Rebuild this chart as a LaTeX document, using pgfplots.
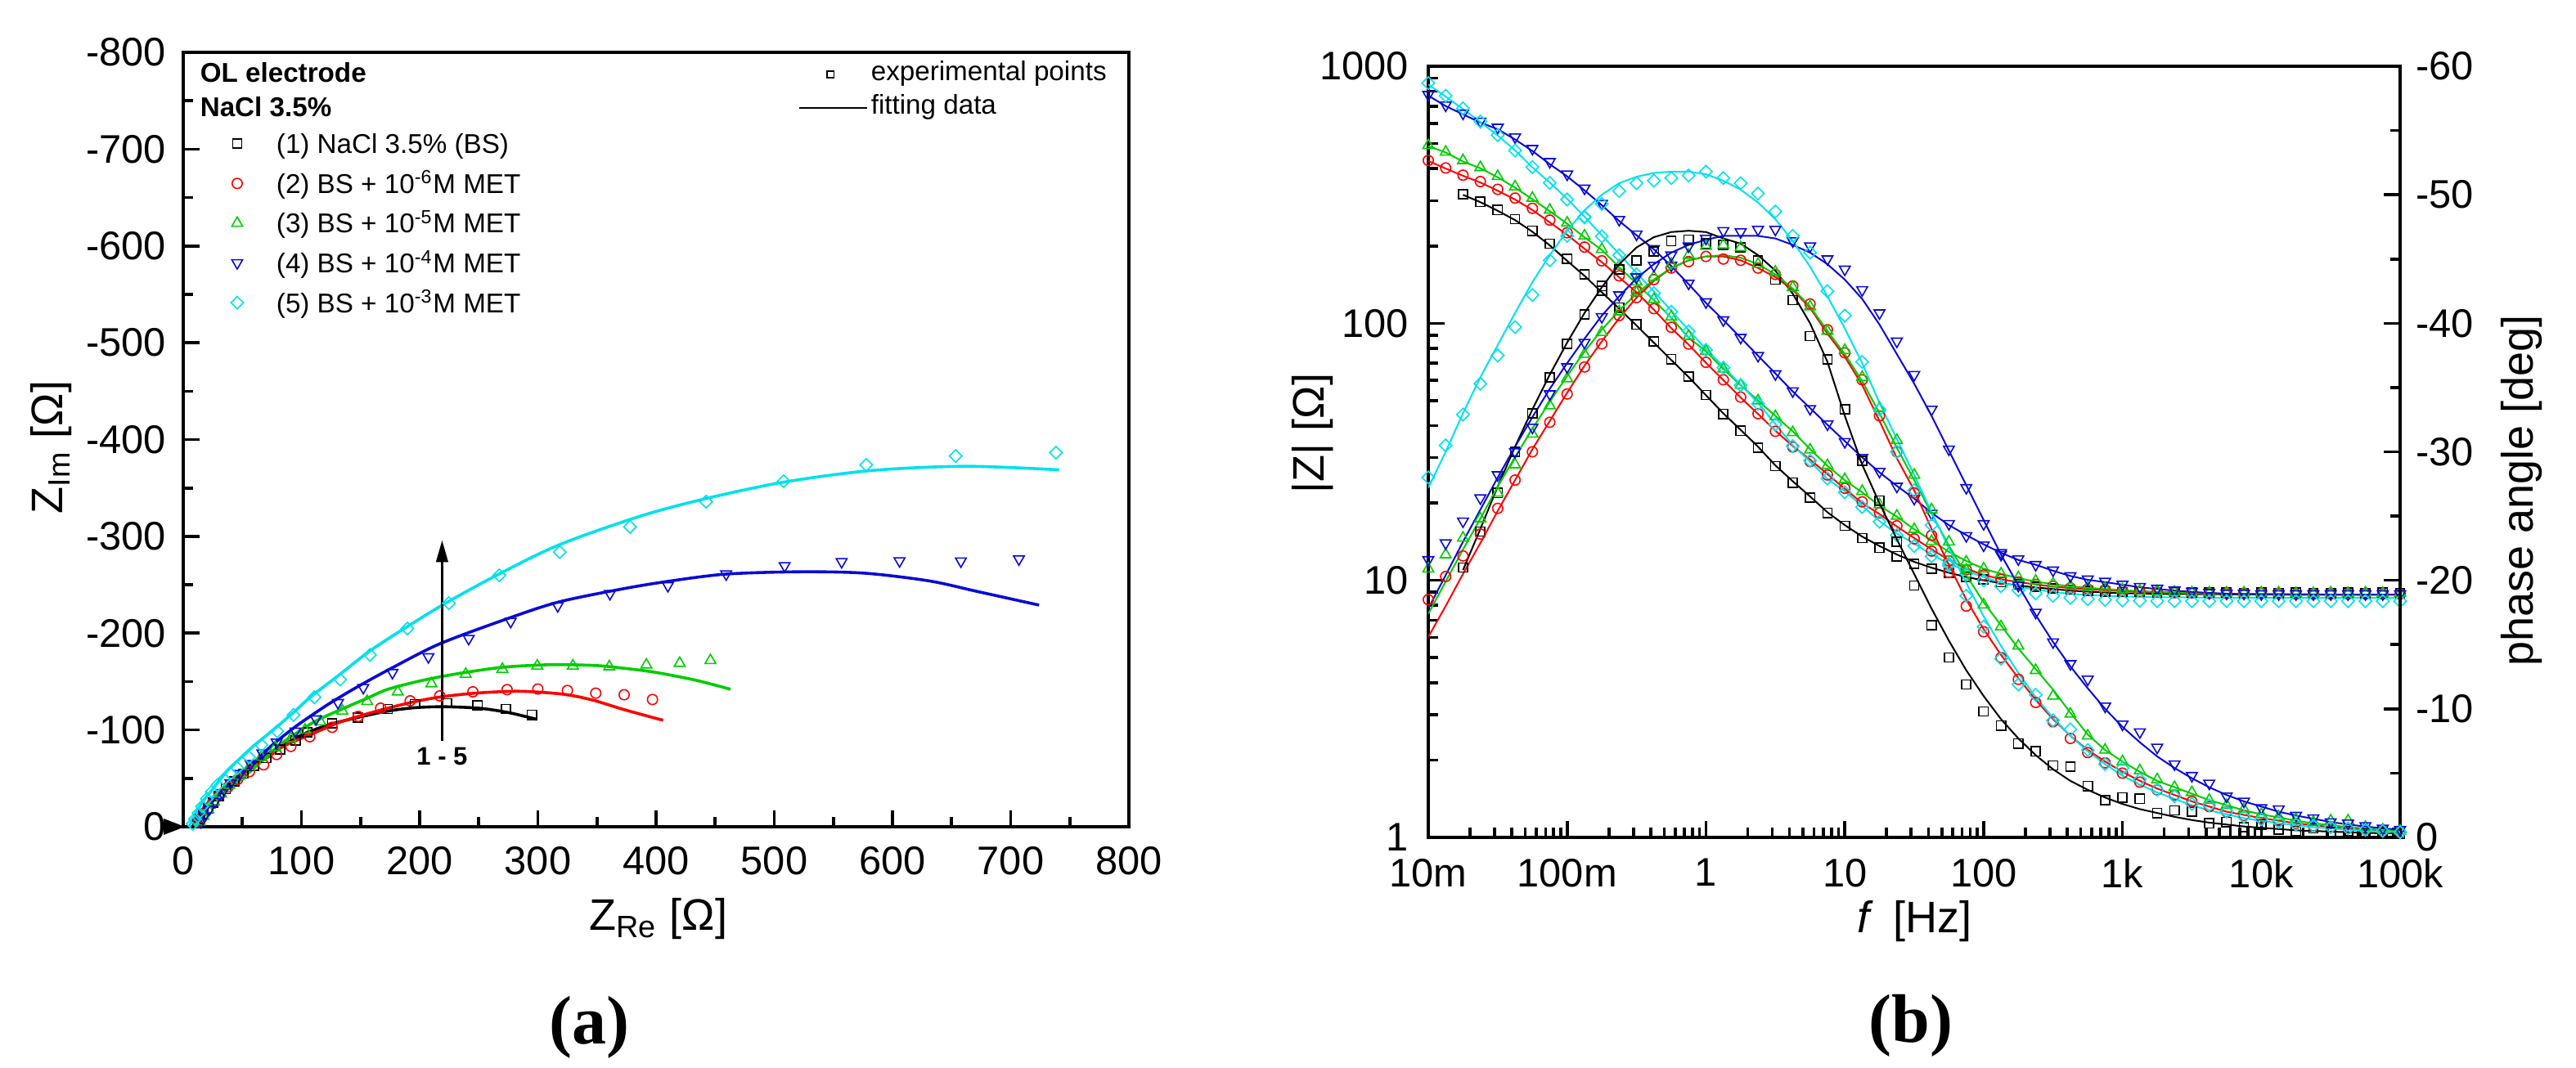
\documentclass[border=0pt]{standalone}
\usepackage{fontspec}
\setmainfont{Liberation Sans}
\newfontfamily\serifbf{Liberation Serif}
\usepackage{pgfplots}
\usepackage{pgfplotstable}
\pgfplotsset{compat=1.18}
\usetikzlibrary{arrows.meta}
\definecolor{cR}{RGB}{255,0,0}
\definecolor{cG}{RGB}{0,205,0}
\definecolor{cB}{RGB}{10,10,215}
\definecolor{cC}{RGB}{0,225,235}
\newcommand\tickfont{\fontsize{12.2}{14}\selectfont}
\newcommand\labfont{\fontsize{13.5}{16}\selectfont}
\newcommand\legfont{\fontsize{8.3}{10}\selectfont}
\pgfplotsset{
  mkA/.style={black, only marks, mark=square, mark size=1.4pt, mark options={solid,line width=0.4pt}},
  mkR/.style={cR, only marks, mark=o, mark size=1.55pt, mark options={solid,line width=0.4pt}},
  mkG/.style={cG, only marks, mark=triangle, mark size=1.9pt, mark options={solid,line width=0.4pt}},
  mkB/.style={cB, only marks, mark=triangle, mark size=1.9pt, mark options={solid,line width=0.4pt,rotate=180}},
  mkC/.style={cC, only marks, mark=square, mark size=1.35pt, mark options={solid,line width=0.4pt,rotate=45}},
}
% ---- Bode data: f, |Z| fit, |Z| exp, phase fit, phase exp ----
\pgfplotstableread{
f Zf Ze Pf Pe
0.01778 316 318 -20.8 -21.0
0.02371 296 297 -24.0 -23.8
0.03162 274 276 -27.3 -26.8
0.04217 252 254 -30.4 -30.0
0.05623 227 229 -33.3 -33.0
0.07499 201 204 -36.0 -35.8
0.1 175 178 -38.5 -38.4
0.1334 153 155 -40.8 -40.7
0.1778 132 134 -42.8 -42.9
0.2371 114 115 -44.6 -44.2
0.3162 98 99 -45.9 -44.9
0.4217 84 85 -46.7 -45.6
0.5623 72 72.5 -47.1 -46.4
0.7499 61.8 62 -47.2 -46.5
1 52.5 52.6 -47.1 -46.2
1.334 44.6 44.4 -46.6 -46.1
1.778 38.5 38.2 -46.2 -45.9
2.371 33.1 32.8 -45.3 -44.9
3.162 28.0 27.8 -44.1 -43.4
4.217 24.3 24.0 -42.3 -41.8
5.623 21.2 21.0 -40.0 -39.0
7.499 18.4 18.3 -37.0 -37.2
10 16.4 16.3 -32.8 -33.3
13.34 14.8 14.6 -29.0 -29.3
17.78 13.6 13.4 -26.0 -26.2
23.71 12.6 12.4 -23.2 -23.0
31.62 11.8 11.6 -20.5 -19.6
42.17 11.2 11.1 -17.8 -16.5
56.23 10.7 10.7 -15.3 -14.0
74.99 10.3 10.3 -13.0 -11.9
100 10.0 10.1 -11.0 -9.8
133.4 9.75 9.85 -9.2 -8.7
177.8 9.55 9.65 -7.7 -7.3
237.1 9.38 9.45 -6.4 -6.7
316.2 9.25 9.3 -5.3 -5.6
421.7 9.12 9.2 -4.4 -5.5
562.3 9.04 9.1 -3.7 -4.0
749.9 8.97 9.05 -3.1 -2.9
1000 8.91 9.0 -2.6 -3.1
1334 8.88 9.0 -2.2 -3.0
1778 8.86 8.95 -1.9 -1.9
2371 8.85 9.0 -1.6 -2.1
3162 8.84 8.95 -1.35 -2.0
4217 8.83 8.95 -1.15 -1.1
5623 8.82 8.95 -1.0 -1.2
7499 8.82 8.9 -0.85 -0.8
10000 8.81 8.95 -0.75 -1.0
13340 8.81 8.9 -0.65 -0.6
17780 8.80 8.95 -0.55 -0.5
23710 8.80 8.9 -0.5 -0.7
31620 8.80 8.9 -0.45 -0.4
42170 8.80 8.95 -0.4 -0.5
56230 8.80 8.9 -0.35 -0.3
74990 8.80 8.95 -0.32 -0.4
100000 8.80 8.9 -0.3 -0.3
}\tA
\pgfplotstableread{
f Zf Ze Pf Pe
0.01 428 430 -15.6 -18.5
0.01334 400 402 -18.0 -20.3
0.01778 375 377 -20.5 -21.9
0.02371 353 356 -22.9 -23.6
0.03162 328 332 -25.4 -25.6
0.04217 303 307 -27.8 -27.8
0.05623 276 280 -30.2 -30.0
0.07499 247 252 -32.4 -32.3
0.1 221 225 -34.6 -34.5
0.1334 195 198 -36.7 -36.6
0.1778 173 175 -38.6 -38.4
0.2371 151 153 -40.4 -40.6
0.3162 132 133 -42.0 -42.0
0.4217 113 114 -43.3 -43.4
0.5623 95.7 96.5 -44.3 -44.3
0.7499 82.6 83 -44.9 -44.8
1 70.2 70.5 -45.2 -45.2
1.334 60.1 60.3 -45.2 -45.0
1.778 51.4 51.6 -44.9 -44.9
2.371 44.4 44.5 -44.3 -44.3
3.162 38.2 38.0 -43.6 -43.8
4.217 33.3 33.0 -42.6 -42.9
5.623 29.5 29.0 -41.2 -41.5
7.499 25.9 25.7 -39.2 -39.5
10 22.7 22.8 -37.4 -37.7
13.34 20.0 20.2 -35.2 -35.6
17.78 18.1 18.3 -32.4 -32.8
23.71 16.2 16.3 -29.5 -30.0
31.62 14.6 14.5 -27.0 -26.8
42.17 13.2 13.0 -24.0 -23.5
56.23 12.0 11.9 -21.2 -20.6
74.99 11.1 11.0 -18.5 -18.0
100 10.5 10.5 -16.2 -16.0
133.4 10.1 10.1 -14.2 -14.0
177.8 9.84 9.85 -12.4 -12.3
237.1 9.64 9.65 -10.7 -10.5
316.2 9.46 9.5 -9.2 -9.0
421.7 9.33 9.35 -7.9 -7.7
562.3 9.23 9.25 -6.8 -6.6
749.9 9.16 9.2 -5.9 -5.8
1000 9.08 9.1 -5.1 -5.0
1334 9.02 9.05 -4.4 -4.3
1778 8.97 9.0 -3.8 -3.7
2371 8.93 8.95 -3.3 -3.3
3162 8.90 8.95 -2.8 -2.8
4217 8.88 8.9 -2.4 -2.4
5623 8.86 8.9 -2.0 -2.0
7499 8.85 8.9 -1.75 -1.7
10000 8.84 8.9 -1.5 -1.5
13340 8.83 8.9 -1.3 -1.3
17780 8.82 8.85 -1.1 -1.1
23710 8.81 8.85 -0.95 -0.9
31620 8.80 8.85 -0.8 -0.8
42170 8.80 8.85 -0.7 -0.7
56230 8.80 8.85 -0.6 -0.6
74990 8.80 8.85 -0.5 -0.5
100000 8.80 8.85 -0.4 -0.4
}\tR
\pgfplotstableread{
f Zf Ze Pf Pe
0.01 489 492 -17.4 -20.9
0.01334 462 464 -19.9 -22.0
0.01778 426 430 -22.4 -23.3
0.02371 401 404 -24.8 -24.8
0.03162 370 373 -27.3 -26.8
0.04217 337 340 -29.6 -29.0
0.05623 304 307 -31.8 -31.4
0.07499 273 276 -33.9 -33.6
0.1 244 246 -35.9 -35.7
0.1334 216 219 -37.8 -37.6
0.1778 193 194 -39.5 -39.3
0.2371 165 167 -41.0 -40.9
0.3162 143 145 -42.3 -42.4
0.4217 123 124 -43.4 -43.6
0.5623 105 106 -44.3 -44.6
0.7499 88 89 -44.9 -45.3
1 77.8 78 -45.2 -46.0
1.334 66.4 66.5 -45.3 -46.1
1.778 57.4 57.5 -45.1 -45.9
2.371 50.1 50 -44.6 -44.6
3.162 43.6 43.4 -43.8 -44.0
4.217 38.0 37.6 -42.7 -42.8
5.623 32.4 32.2 -41.3 -41.3
7.499 27.9 28.0 -39.4 -39.4
10 24.5 24.7 -37.6 -37.9
13.34 22.0 22.2 -35.5 -35.8
17.78 19.5 19.7 -33.0 -33.4
23.71 17.7 17.8 -30.3 -30.9
31.62 15.8 15.8 -27.8 -28.2
42.17 14.3 14.2 -25.2 -25.5
56.23 12.9 12.8 -22.7 -23.0
74.99 11.9 11.8 -20.4 -20.8
100 11.1 11.1 -18.3 -18.1
133.4 10.6 10.6 -16.5 -16.4
177.8 10.2 10.25 -14.7 -14.9
237.1 9.89 9.95 -13.1 -13.0
316.2 9.66 9.7 -11.5 -11.0
421.7 9.48 9.5 -9.7 -9.6
562.3 9.35 9.4 -8.0 -7.9
749.9 9.25 9.3 -6.8 -6.8
1000 9.16 9.2 -5.9 -5.9
1334 9.08 9.1 -5.1 -5.2
1778 9.02 9.05 -4.4 -4.5
2371 8.97 9.0 -3.9 -3.9
3162 8.93 8.95 -3.4 -3.5
4217 8.90 8.95 -2.9 -2.9
5623 8.88 8.95 -2.5 -2.5
7499 8.86 8.95 -2.1 -2.2
10000 8.85 8.95 -1.8 -1.8
13340 8.84 8.95 -1.55 -1.6
17780 8.83 8.9 -1.3 -1.4
23710 8.82 8.9 -1.1 -1.2
31620 8.81 8.95 -0.95 -1.3
42170 8.80 8.9 -0.8 -1.3
56230 8.80 8.95 -0.7 -0.8
74990 8.80 8.9 -0.55 -0.6
100000 8.80 8.9 -0.45 -0.5
}\tG
\pgfplotstableread{
f Zf Ze Pf Pe
0.01 769 775 -17.8 -21.6
0.01334 700 705 -20.4 -22.9
0.01778 650 656 -23.0 -24.6
0.02371 604 610 -25.5 -26.4
0.03162 569 578 -28.0 -28.2
0.04217 519 530 -30.4 -30.0
0.05623 468 478 -32.7 -31.9
0.07499 416 425 -34.9 -34.5
0.1 373 380 -36.9 -36.6
0.1334 329 335 -38.8 -38.5
0.1778 288 292 -40.6 -40.5
0.2371 250 253 -42.1 -42.2
0.3162 220 222 -43.5 -43.6
0.4217 194 195 -44.6 -44.5
0.5623 167 168 -45.5 -45.3
0.7499 142 143 -46.1 -46.0
1 120 121 -46.5 -46.6
1.334 103 103 -46.8 -47.2
1.778 87.9 88 -46.8 -47.1
2.371 74.8 74.8 -46.8 -47.3
3.162 63.8 63.5 -46.6 -47.3
4.217 54.3 54.5 -46.1 -46.4
5.623 46.8 46.5 -45.5 -46.0
7.499 40.3 40.5 -44.6 -45.0
10 34.8 34.6 -43.4 -44.2
13.34 30.1 30.0 -41.9 -42.6
17.78 26.3 26.5 -39.9 -40.8
23.71 23.3 23.2 -37.6 -38.6
31.62 20.8 20.8 -35.3 -36.0
42.17 18.3 18.2 -32.8 -33.3
56.23 16.4 16.6 -30.1 -30.2
74.99 15.0 14.9 -27.4 -27.2
100 13.8 13.7 -24.7 -24.4
133.4 12.8 12.8 -22.0 -22.0
177.8 12.0 12.1 -19.6 -19.6
237.1 11.5 11.5 -17.3 -17.5
316.2 10.9 10.95 -15.2 -15.2
421.7 10.4 10.4 -13.3 -13.5
562.3 10.05 10.1 -11.6 -12.3
749.9 9.84 9.9 -10.0 -10.2
1000 9.62 9.65 -8.6 -8.8
1334 9.40 9.45 -7.4 -8.2
1778 9.25 9.3 -6.3 -7.0
2371 9.12 9.15 -5.4 -5.7
3162 9.02 9.05 -4.6 -4.8
4217 8.93 8.95 -3.9 -4.2
5623 8.87 8.9 -3.3 -3.2
7499 8.84 8.9 -2.8 -2.8
10000 8.82 8.85 -2.4 -2.3
13340 8.81 8.85 -2.0 -2.2
17780 8.80 8.85 -1.7 -1.7
23710 8.80 8.85 -1.45 -1.5
31620 8.80 8.85 -1.2 -1.2
42170 8.80 8.85 -1.0 -1.1
56230 8.80 8.85 -0.85 -0.9
74990 8.80 8.85 -0.7 -0.7
100000 8.80 8.85 -0.6 -0.6
}\tB
\pgfplotstableread{
f Zf Ze Pf Pe
0.01 849 860 -27.2 -28.0
0.01334 762 768 -30.0 -30.5
0.01778 681 686 -33.0 -32.9
0.02371 607 610 -35.8 -35.3
0.03162 538 540 -38.3 -37.5
0.04217 471 470 -40.8 -39.7
0.05623 404 405 -43.2 -42.2
0.07499 353 352 -45.3 -44.9
0.1 305 303 -47.2 -46.8
0.1334 260 258 -48.8 -48.3
0.1778 220 218 -50.0 -49.3
0.2371 186 184 -50.9 -50.3
0.3162 157 155 -51.4 -50.9
0.4217 133 131 -51.7 -51.1
0.5623 112 111 -51.8 -51.3
0.7499 94 93 -51.8 -51.5
1 79.4 78.8 -51.6 -51.8
1.334 67.8 67.2 -51.1 -51.3
1.778 57.8 57.4 -50.4 -50.9
2.371 49.0 48.6 -49.4 -50.1
3.162 40.6 40.4 -48.1 -48.7
4.217 33.5 33.3 -46.4 -46.8
5.623 29.0 29.2 -44.4 -45.5
7.499 24.8 24.9 -42.1 -42.5
10 22.2 22.0 -39.6 -40.6
13.34 19.5 19.3 -36.9 -37.0
17.78 17.0 16.9 -33.8 -33.3
23.71 15.2 15.0 -31.0 -30.0
31.62 13.9 13.6 -28.2 -27.0
42.17 12.6 12.4 -25.3 -24.3
56.23 11.6 11.4 -22.5 -21.3
74.99 10.9 10.6 -19.8 -18.8
100 10.3 10.0 -17.2 -16.4
133.4 9.8 9.5 -14.9 -13.9
177.8 9.46 9.15 -12.8 -11.9
237.1 9.2 8.9 -10.9 -11.1
316.2 9.02 8.7 -9.3 -9.1
421.7 8.87 8.55 -7.9 -8.4
562.3 8.77 8.45 -6.7 -6.8
749.9 8.71 8.4 -5.7 -5.7
1000 8.65 8.35 -4.8 -5.4
1334 8.62 8.33 -4.1 -4.5
1778 8.6 8.3 -3.5 -3.7
2371 8.59 8.3 -3.0 -3.2
3162 8.58 8.3 -2.5 -2.6
4217 8.57 8.3 -2.1 -2.5
5623 8.56 8.3 -1.8 -2.0
7499 8.56 8.3 -1.5 -1.6
10000 8.55 8.3 -1.3 -1.4
13340 8.55 8.3 -1.1 -1.2
17780 8.55 8.3 -0.95 -1.0
23710 8.55 8.3 -0.8 -0.9
31620 8.55 8.3 -0.7 -0.8
42170 8.55 8.3 -0.6 -0.7
56230 8.55 8.3 -0.5 -0.6
74990 8.55 8.3 -0.45 -0.5
100000 8.55 8.3 -0.4 -0.4
}\tC
\begin{document}
\begin{tikzpicture}
\useasboundingbox (0,0) rectangle (787.25pt,326.5pt);
% ================= (a) Nyquist =================
\begin{axis}[
  at={(56pt,73.75pt)}, anchor=south west,
  width=289pt, height=236.75pt, scale only axis,
  xmin=0, xmax=800, ymin=-800, ymax=0, y dir=reverse,
  xtick={0,100,...,800}, ytick={-800,-700,...,0},
  xticklabels={0,100,200,300,400,500,600,700,800},
  yticklabels={-800,-700,-600,-500,-400,-300,-200,-100,0},
  minor x tick num=1, minor y tick num=1,
  xtick pos=left, ytick pos=left, tick align=inside,
  major tick length=5pt, minor tick length=3pt,
  axis line style={line width=1pt},
  tick style={black, line width=0.9pt},
  tick label style={font=\tickfont},
  xticklabel style={yshift=-2.5pt}, yticklabel style={xshift=-1.75pt},
  legend style={at={(0.0363,0.899)}, anchor=north west, draw=none, fill=none,
    inner sep=0pt, outer sep=0pt, row sep=4.15pt, column sep=6pt,
    nodes={inner sep=0pt, text height=7pt, text depth=1pt, font=\legfont}},
  legend cell align=left,
]
\addlegendimage{legend image code/.code={\path[draw=none,fill=none] (0pt,-1pt) rectangle (12pt,1pt);
  \draw[black, only marks, mark=square, mark size=1.4pt, mark options={solid,line width=0.4pt}] plot coordinates {(6pt,0pt)};}}
\addlegendentry{(1) NaCl 3.5\% (BS)}
\addlegendimage{legend image code/.code={\path[draw=none,fill=none] (0pt,-1pt) rectangle (12pt,1pt);
  \draw[cR, only marks, mark=o, mark size=1.55pt, mark options={solid,line width=0.4pt}] plot coordinates {(6pt,0pt)};}}
\addlegendentry{(2) BS + 10\textsuperscript{-6}M MET}
\addlegendimage{legend image code/.code={\path[draw=none,fill=none] (0pt,-1pt) rectangle (12pt,1pt);
  \draw[cG, only marks, mark=triangle, mark size=1.9pt, mark options={solid,line width=0.4pt}] plot coordinates {(6pt,0pt)};}}
\addlegendentry{(3) BS + 10\textsuperscript{-5}M MET}
\addlegendimage{legend image code/.code={\path[draw=none,fill=none] (0pt,-1pt) rectangle (12pt,1pt);
  \draw[cB, only marks, mark=triangle, mark size=1.9pt, mark options={solid,line width=0.4pt,rotate=180}] plot coordinates {(6pt,0pt)};}}
\addlegendentry{(4) BS + 10\textsuperscript{-4}M MET}
\addlegendimage{legend image code/.code={\path[draw=none,fill=none] (0pt,-1pt) rectangle (12pt,1pt);
  \draw[cC, only marks, mark=square, mark size=1.35pt, mark options={solid,line width=0.4pt,rotate=45}] plot coordinates {(6pt,0pt)};}}
\addlegendentry{(5) BS + 10\textsuperscript{-3}M MET}
% experimental points
\addplot[mkA, forget plot] coordinates {(12,-4) (14,-8) (17,-13) (21,-19) (25,-25) (30,-32) (36,-39) (43,-47) (51,-55) (60,-63) (70,-71) (82,-80) (95,-89) (105,-97.7) (126,-107) (148,-112.7) (173,-121.7) (196,-126.8) (223,-127.6) (249,-125.4) (273,-121.7) (295,-115.5)};
\addplot[mkR, forget plot] coordinates {(13,-5) (16,-10) (20,-17) (25,-25) (31,-33) (38,-41) (46,-49) (56,-57) (68,-64) (79,-74.6) (91,-83) (107,-93) (126,-102.8) (148,-114) (167,-122.5) (192,-130.1) (217,-135.2) (245,-139.4) (274,-141.7) (300,-142.3) (325,-140.8) (349,-138) (373,-136.4) (397,-131.5)};
\addplot[mkG, forget plot] coordinates {(14,-5) (17,-11) (21,-18) (26,-26) (32,-34) (39,-43) (47,-52) (56,-62) (66,-72) (78,-82) (91,-91) (103,-100) (116,-108.5) (134.6,-119.7) (155.6,-129.6) (181.5,-139.4) (210,-147.9) (239,-157.7) (270,-162.8) (299.5,-166.2) (329.6,-166.2) (360.5,-165.4) (391.8,-167.3) (420,-169) (446,-171.8)};
\addplot[mkB, forget plot] coordinates {(15,-5) (18,-11) (22,-18) (27,-26) (33,-35) (40,-45) (48,-55) (57,-65) (67,-76) (79,-87.3) (95,-98.6) (112.3,-111.3) (130.9,-128.2) (152.3,-143.7) (177,-159.2) (207.4,-175.5) (241.5,-194.4) (277,-212) (316.8,-228.2) (361,-240.8) (410,-249) (459.3,-261) (508.8,-269.6) (557,-273.8) (606,-274.6) (657.9,-274.4) (707,-276.6)};
\addplot[mkC, forget plot] coordinates {(8,-3) (10,-8) (13,-14) (16,-21) (20,-29) (24,-36) (29,-43) (34.6,-49.3) (40,-55) (45.7,-60.6) (55.6,-71.8) (66.2,-84.5) (79.5,-98.6) (93.3,-115.5) (111,-133.8) (132.8,-152.1) (158,-177.5) (189.6,-204.8) (224.7,-231) (267.4,-259.7) (318.5,-283.7) (378,-309.8) (442.4,-335.8) (508,-357) (577.8,-373.8) (653.5,-383) (738.3,-386.5)};
% fitted curves
\addplot[black, line width=0.9pt, smooth, forget plot] coordinates {(9,0) (11,-7) (15,-16) (20,-23) (25,-30) (35,-42) (49,-55) (62,-66) (74,-77) (90,-88) (104,-97) (125,-106) (148,-113) (173,-119.5) (196,-123) (220,-124) (250,-122.5) (275,-118) (299,-111)};
\addplot[cR, line width=0.9pt, smooth, forget plot] coordinates {(9,0) (11,-6) (15,-14) (20,-22) (27,-31) (37,-39) (50,-52) (62,-64) (74,-74) (86,-84) (111,-97) (130,-107) (148,-114) (173,-122.5) (195,-129) (217,-134) (247,-138) (284,-140) (321,-137) (346,-131) (373,-121) (406,-110)};
\addplot[cG, line width=0.9pt, smooth, forget plot] coordinates {(10,0) (12,-6) (16,-14) (21,-22) (28,-31) (37,-38) (50,-50) (62,-63) (74,-76) (86,-88.7) (111,-108.5) (136,-122.5) (155,-132.5) (173,-142) (198,-150) (222,-156) (247,-161) (272,-165) (300,-167) (321,-167.5) (350,-166.5) (371,-164) (398.6,-159.7) (434,-151.3) (463,-142)};
\addplot[cB, line width=0.9pt, smooth, forget plot] coordinates {(12,0) (14,-6) (18,-14) (24,-25) (35,-40) (49,-55) (62,-69) (74,-83) (86,-95) (99,-107) (123,-126.8) (148,-145) (178,-165) (217,-189) (272,-214) (317,-232) (371,-245.6) (410,-253.5) (459,-261) (521,-263.4) (576,-262) (631,-254) (672,-243) (724,-229)};
\addplot[cC, line width=0.9pt, smooth, forget plot] coordinates {(5,0) (8,-7) (12,-17) (17,-27) (25,-39) (37,-57.7) (48,-70.5) (59,-83) (70,-94) (81.5,-105.6) (95,-120) (108.6,-135) (131,-156) (158,-181.7) (188,-205.6) (222,-231) (267,-261) (318.5,-291.5) (387,-321) (442,-339) (508,-356) (582,-368) (662,-372.4) (741,-368.7)};
\draw[line width=0.75pt, -{Triangle[length=6.7pt,width=3.6pt]}] (axis cs:219,-89) -- (axis cs:219,-296);
\node[font=\fontsize{7.75}{9}\selectfont\bfseries] at (axis cs:219,-73) {1 - 5};
\end{axis}
% second legend of (a)
\begin{axis}[
  at={(56pt,73.75pt)}, anchor=south west,
  width=289pt, height=236.75pt, scale only axis, hide axis,
  xmin=0, xmax=1, ymin=0, ymax=1,
  legend style={at={(0.6505,0.9884)}, anchor=north west, draw=none, fill=none,
    inner sep=0pt, outer sep=0pt, row sep=2.25pt, column sep=0.75pt,
    nodes={inner sep=0pt, text height=6pt, text depth=2pt, font=\legfont}},
  legend cell align=left,
]
\addlegendimage{legend image code/.code={\path[draw=none,fill=none] (0pt,-1pt) rectangle (20.75pt,1pt);
  \draw[black, only marks, mark=square, mark size=1.05pt, mark options={solid,line width=0.4pt}] plot coordinates {(9.5pt,0pt)};}}
\addlegendentry{experimental points}
\addlegendimage{legend image code/.code={\draw[black, line width=0.7pt] (0pt,0pt) -- (20.75pt,0pt);}}
\addlegendentry{fitting data}
\end{axis}
% ================= (b) Bode =================
\begin{axis}[
  at={(436.5pt,70.5pt)}, anchor=south west,
  width=297pt, height=235.75pt, scale only axis,
  xmode=log, ymode=log, xmin=0.01, xmax=100000, ymin=1, ymax=1000,
  xtick={0.01,0.1,1,10,100,1000,10000,100000},
  xticklabels={10m,100m,1,10,100,1k,10k,100k},
  ytick={1,10,100,1000}, yticklabels={1,10,100,1000},
  minor xtick={0.02,0.03,0.04,0.05,0.06,0.07,0.08,0.09,0.2,0.3,0.4,0.5,0.6,0.7,0.8,0.9,2,3,4,5,6,7,8,9,20,30,40,50,60,70,80,90,200,300,400,500,600,700,800,900,2000,3000,4000,5000,6000,7000,8000,9000,20000,30000,40000,50000,60000,70000,80000,90000},
  minor ytick={2,3,4,5,6,7,8,9,20,30,40,50,60,70,80,90,200,300,400,500,600,700,800,900},
  xtick pos=left, ytick pos=left, tick align=inside,
  major tick length=5pt, minor tick length=3pt,
  axis line style={line width=1pt},
  tick style={black, line width=0.9pt},
  tick label style={font=\tickfont},
  xticklabel style={yshift=-3pt}, yticklabel style={xshift=-2.5pt},
]
\addplot[black, line width=0.5pt] table[x=f,y=Zf] {\tA};
\addplot[cR, line width=0.5pt] table[x=f,y=Zf] {\tR};
\addplot[cG, line width=0.5pt] table[x=f,y=Zf] {\tG};
\addplot[cB, line width=0.5pt] table[x=f,y=Zf] {\tB};
\addplot[cC, line width=0.5pt] table[x=f,y=Zf] {\tC};
\addplot[mkA] table[x=f,y=Ze] {\tA};
\addplot[mkR] table[x=f,y=Ze] {\tR};
\addplot[mkG] table[x=f,y=Ze] {\tG};
\addplot[mkB] table[x=f,y=Ze] {\tB};
\addplot[mkC] table[x=f,y=Ze] {\tC};
\end{axis}
\begin{axis}[
  at={(436.5pt,70.5pt)}, anchor=south west,
  width=297pt, height=235.75pt, scale only axis,
  xmode=log, xmin=0.01, xmax=100000, ymin=-60, ymax=0, y dir=reverse,
  axis x line=none, axis y line*=right,
  ytick={-60,-50,...,0}, yticklabels={-60,-50,-40,-30,-20,-10,0},
  minor y tick num=1, tick align=inside,
  major tick length=5pt, minor tick length=3pt,
  axis line style={line width=1pt},
  tick style={black, line width=0.9pt},
  tick label style={font=\tickfont},
  yticklabel style={xshift=1.25pt},
]
\addplot[black, line width=0.5pt] table[x=f,y=Pf] {\tA};
\addplot[cR, line width=0.5pt] table[x=f,y=Pf] {\tR};
\addplot[cG, line width=0.5pt] table[x=f,y=Pf] {\tG};
\addplot[cB, line width=0.5pt] table[x=f,y=Pf] {\tB};
\addplot[cC, line width=0.5pt] table[x=f,y=Pf] {\tC};
\addplot[mkA] table[x=f,y=Pe] {\tA};
\addplot[mkR] table[x=f,y=Pe] {\tR};
\addplot[mkG] table[x=f,y=Pe] {\tG};
\addplot[mkB] table[x=f,y=Pe] {\tB};
\addplot[mkC] table[x=f,y=Pe] {\tC};
\end{axis}
% ---- titles, axis labels, decorations ----
\fill[black] (56.5pt,73.75pt) -- (50pt,76.25pt) -- (50pt,71.25pt) -- cycle;
\node[anchor=base west, font=\legfont\bfseries, inner sep=0pt] at (61pt,301.25pt) {OL electrode};
\node[anchor=base west, font=\legfont\bfseries, inner sep=0pt] at (61pt,290.75pt) {NaCl 3.5\%};
\node[anchor=base, font=\labfont, inner sep=0pt] at (201.25pt,42pt) {Z\textsubscript{Re} [Ω]};
\node[anchor=base, rotate=90, font=\labfont, inner sep=0pt] at (19.25pt,189.75pt) {Z\textsubscript{Im} [Ω]};
\node[anchor=base, font=\labfont, inner sep=0pt] at (585pt,41.25pt) {\textit{f}\hspace{0.45em}[Hz]};
\node[rotate=90, font=\labfont, inner sep=0pt] at (401.25pt,194pt) {|Z| [Ω]};
\node[rotate=90, font=\labfont, inner sep=0pt] at (770.75pt,176.5pt) {phase angle [deg]};
\node[font=\fontsize{21}{24}\selectfont\serifbf\bfseries, inner sep=0pt] at (180pt,12.5pt) {(a)};
\node[font=\fontsize{21}{24}\selectfont\serifbf\bfseries, inner sep=0pt] at (584pt,13pt) {(b)};
\end{tikzpicture}
\end{document}
